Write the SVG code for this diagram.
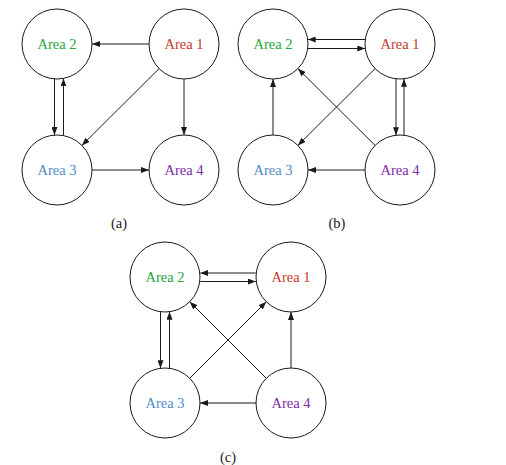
<svg xmlns="http://www.w3.org/2000/svg" width="506" height="465" viewBox="0 0 506 465">
<defs>
<marker id="ah" markerWidth="8" markerHeight="6" refX="8" refY="3" orient="auto" markerUnits="userSpaceOnUse">
<path d="M0,0 L8,3 L0,6 z" fill="#1a1a1a"/>
</marker>
<style>
.n{fill:#fff;stroke:#1a1a1a;stroke-width:1}
.t{font-family:"Liberation Serif","DejaVu Serif",serif;font-size:14.5px;text-anchor:middle}
.e line{stroke:#1a1a1a;stroke-width:1;marker-end:url(#ah)}
.a1{fill:#c8372d}.a2{fill:#22a63a}.a3{fill:#4f8cc9}.a4{fill:#7c2aa8}
.cap{font-family:"Liberation Serif","DejaVu Serif",serif;font-size:14.5px;text-anchor:middle;fill:#1a1a1a}
</style>
</defs>
<rect width="506" height="465" fill="#fff"/>
<!-- Panel a -->
<g id="a-area2"><circle class="n" cx="57" cy="44" r="35"/><text class="t a2" x="57" y="49">Area 2</text></g>
<g id="a-area1"><circle class="n" cx="184" cy="44" r="35"/><text class="t a1" x="184" y="49">Area 1</text></g>
<g id="a-area3"><circle class="n" cx="57" cy="170" r="35"/><text class="t a3" x="57" y="175">Area 3</text></g>
<g id="a-area4"><circle class="n" cx="184" cy="170" r="35"/><text class="t a4" x="184" y="175">Area 4</text></g>
<g id="a-edges" class="e">
<line x1="149" y1="44" x2="92" y2="44"/>
<line x1="54.5" y1="78.9" x2="54.5" y2="135.1"/>
<line x1="63.5" y1="135.6" x2="63.5" y2="78.4"/>
<line x1="159.1" y1="68.6" x2="81.9" y2="145.4"/>
<line x1="184" y1="79" x2="184" y2="135"/>
<line x1="92" y1="170" x2="149" y2="170"/>
</g>
<text class="cap" x="119" y="228">(a)</text>
<!-- Panel b -->
<g id="b-area2"><circle class="n" cx="273" cy="44" r="35"/><text class="t a2" x="273" y="49">Area 2</text></g>
<g id="b-area1"><circle class="n" cx="400" cy="44" r="35"/><text class="t a1" x="400" y="49">Area 1</text></g>
<g id="b-area3"><circle class="n" cx="273" cy="170" r="35"/><text class="t a3" x="273" y="175">Area 3</text></g>
<g id="b-area4"><circle class="n" cx="400" cy="170" r="35"/><text class="t a4" x="400" y="175">Area 4</text></g>
<g id="b-edges" class="e">
<line x1="365.3" y1="39.5" x2="307.7" y2="39.5"/>
<line x1="307.7" y1="48.5" x2="365.3" y2="48.5"/>
<line x1="375.1" y1="68.6" x2="297.9" y2="145.4"/>
<line x1="375.1" y1="145.4" x2="297.9" y2="68.6"/>
<line x1="273" y1="135" x2="273" y2="79"/>
<line x1="396" y1="78.8" x2="396" y2="135.2"/>
<line x1="404" y1="135.2" x2="404" y2="78.8"/>
<line x1="365" y1="170" x2="308" y2="170"/>
</g>
<text class="cap" x="337" y="228">(b)</text>
<!-- Panel c -->
<g id="c-area2"><circle class="n" cx="165" cy="277" r="35"/><text class="t a2" x="165" y="282">Area 2</text></g>
<g id="c-area1"><circle class="n" cx="291" cy="277" r="35"/><text class="t a1" x="291" y="282">Area 1</text></g>
<g id="c-area3"><circle class="n" cx="165" cy="403" r="35"/><text class="t a3" x="165" y="408">Area 3</text></g>
<g id="c-area4"><circle class="n" cx="291" cy="403" r="35"/><text class="t a4" x="291" y="408">Area 4</text></g>
<g id="c-edges" class="e">
<line x1="255.7" y1="273" x2="200.3" y2="273"/>
<line x1="200.2" y1="281.5" x2="255.8" y2="281.5"/>
<line x1="160.5" y1="311.7" x2="160.5" y2="368.3"/>
<line x1="169.5" y1="368.3" x2="169.5" y2="311.7"/>
<line x1="266.3" y1="378.3" x2="189.7" y2="301.7"/>
<line x1="189.7" y1="378.3" x2="266.3" y2="301.7"/>
<line x1="291" y1="368" x2="291" y2="312"/>
<line x1="256" y1="403" x2="200" y2="403"/>
</g>
<text class="cap" x="228" y="462">(c)</text>
</svg>
